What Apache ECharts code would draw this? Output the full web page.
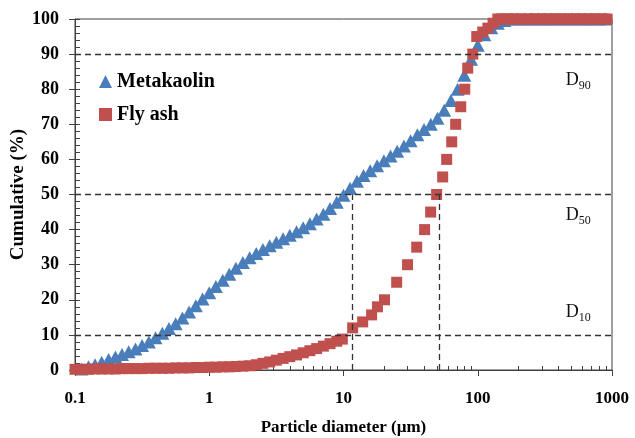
<!DOCTYPE html>
<html><head><meta charset="utf-8">
<script src="https://cdn.jsdelivr.net/npm/echarts@6/dist/echarts.min.js"></script>
<style>html,body{margin:0;padding:0;background:#fff}#c{width:635px;height:438px}</style>
</head><body><div id="c"></div>
<script>
// ---- data ----
const mkDiam = [0.112,0.126,0.141,0.158,0.178,0.2,0.224,0.251,0.282,0.316,0.355,0.398,0.447,0.501,0.562,0.631,0.708,0.794,0.891,1,1.12,1.26,1.41,1.58,1.78,2,2.24,2.51,2.82,3.16,3.55,3.98,4.47,5.01,5.62,6.31,7.08,7.94,8.91,10,11.2,12.6,14.1,15.8,17.8,20,22.4,25.1,28.2,31.6,35.5,39.8,44.7,50.1,56.2,63.1,70.8,79.4,89.1,100,112,126,141,158,178,200,224,251,282,316,355,398,447,501,562,631,708,794,891];
const mkCum  = [0.3,0.9,1.5,2.2,3.0,3.7,4.4,5.2,6.0,7.0,8.0,9.2,10.5,11.8,13.2,14.8,16.5,18.3,20.2,22,23.8,25.6,27.3,29,30.6,32,33.2,34.3,35.4,36.4,37.4,38.4,39.4,40.5,41.7,43,44.4,46,47.8,49.8,51.8,53.8,55.4,56.8,58.2,59.6,61,62.3,63.8,65.3,67,68.5,70,71.7,74,76.8,80,84,88.5,92.5,95.5,97.5,98.8,99.6,100,100,100,100,100,100,100,100,100,100,100,100,100,100,100];
const faDiam = [0.1,0.112,0.126,0.141,0.158,0.178,0.2,0.224,0.251,0.282,0.316,0.355,0.398,0.447,0.501,0.562,0.631,0.708,0.794,0.891,1,1.12,1.26,1.41,1.58,1.78,2,2.24,2.51,2.82,3.16,3.55,3.98,4.47,5.01,5.62,6.31,7.08,7.94,8.91,9.8,11.7,13.9,16.2,17.9,20.2,24.9,30,35.1,40.2,44.6,49.4,54.8,58.7,64,68.5,74.7,80,84.2,91.8,98.3,109,119,130,141,150,160,170,182,195,210,232,248,265,283,302,323,345,368,393,420,448,478,510,545,582,621,663,708,756,807,862,920];
const faCum  = [0.2,0.2,0.2,0.3,0.3,0.3,0.3,0.4,0.4,0.4,0.4,0.5,0.5,0.5,0.5,0.6,0.6,0.6,0.7,0.7,0.8,0.8,0.9,0.9,1.0,1.1,1.2,1.5,1.9,2.3,2.8,3.3,3.8,4.3,4.9,5.5,6.1,6.8,7.5,8.2,8.8,12,13.7,15.7,18,20,25,30,35,40,45,50,55,60,65,70,75,80,86,90,95,96.3,97.4,98.8,100,100,100,100,100,100,100,100,100,100,100,100,100,100,100,100,100,100,100,100,100,100,100,100,100,100,100,100,100];
const seriesNames = ['Metakaolin','Fly ash'];
const xMinorTicks = [0.2,0.3,0.4,0.5,0.6,0.7,0.8,0.9,2,3,4,5,6,7,8,9,20,30,40,50,60,70,80,90,200,300,400,500,600,700,800,900];
const yMajorStep = 10, yMinorStep = 2;
const hLines = [90,50,10];      // D90, D50, D10 levels
const vLines = [11.7,52];       // D10, D50 diameters of fly ash
const dNames = ['90','50','10'];

const chart = echarts.init(document.getElementById('c'), null, {renderer:'canvas'});
const serif = 'Liberation Serif, Times New Roman, serif';
const axCol = '#404040';
const pairs = (xs, ys) => xs.map((x,i)=>[x, ys[i]]);

chart.setOption({
  animation:false,
  backgroundColor:'#fff',
  grid:{left:75,right:23,top:19,bottom:68,show:true,borderColor:axCol,borderWidth:1,backgroundColor:'transparent',
        containLabel:false, outerBoundsMode:'none'},
  legend:{
    orient:'vertical', left:94, top:66, itemWidth:13, itemHeight:13, itemGap:12,
    data:seriesNames,
    textStyle:{fontFamily:serif,fontWeight:'bold',fontSize:20,color:'#000',lineHeight:21}
  },
  xAxis:[{
    type:'log', logBase:10, min:0.1, max:1000,
    name:'Particle diameter (\u00b5m)', nameLocation:'middle', nameGap:49,
    nameTextStyle:{fontFamily:serif,fontWeight:'bold',fontSize:17,color:'#000'},
    axisLine:{lineStyle:{color:axCol,width:1}},
    axisTick:{show:true,inside:false,length:6,lineStyle:{color:axCol}},
    axisLabel:{fontFamily:serif,fontWeight:'bold',fontSize:17,color:'#000',margin:20,
      formatter:v=>String(v)},
    splitLine:{show:false}, minorTick:{show:false}
  },{
    type:'log', logBase:10, min:0.1, max:1000, position:'bottom',
    axisLine:{show:false},
    axisTick:{show:true,inside:true,length:4,lineStyle:{color:axCol},customValues:xMinorTicks},
    axisLabel:{show:false}, splitLine:{show:false}
  }],
  yAxis:[{
    type:'value', min:0, max:100, interval:yMajorStep,
    name:'Cumulative (%)', nameLocation:'middle', nameGap:47, nameRotate:90, nameMoveOverlap:false,
    nameTextStyle:{fontFamily:serif,fontWeight:'bold',fontSize:19,color:'#000'},
    axisLine:{show:true,lineStyle:{color:axCol,width:1}},
    axisTick:{show:true,inside:false,length:6,lineStyle:{color:axCol}},
    axisLabel:{fontFamily:serif,fontWeight:'bold',fontSize:18,color:'#000',margin:16},
    splitLine:{show:false}
  },{
    type:'value', min:0, max:100, interval:yMinorStep, position:'left',
    axisLine:{show:false},
    axisTick:{show:true,inside:true,length:5,lineStyle:{color:axCol}},
    axisLabel:{show:false}, splitLine:{show:false}
  }],
  series:[{
    name:seriesNames[0], type:'scatter', xAxisIndex:0, yAxisIndex:0,
    symbol:'triangle', symbolSize:[14,13],
    itemStyle:{color:'#4A7EBB', opacity:1},
    data:pairs(mkDiam, mkCum),
    z:2,
    markLine:{
      silent:true, symbol:'none', animation:false,
      label:{show:false},
      lineStyle:{type:[6,4],color:'#333',width:1.3},
      data:[
        ...hLines.map(v=>({yAxis:v})),
        ...vLines.map(d=>[{coord:[d,0]},{coord:[d,hLines[1]]}])
      ]
    },
    markPoint:{
      silent:true, symbol:'rect', symbolSize:0,
      label:{show:true, position:'inside', color:'#000',
        formatter:p=>'{a|D}{b|'+p.name+'}',
        rich:{a:{fontFamily:serif,fontSize:18,color:'#111'},
              b:{fontFamily:serif,fontSize:12,color:'#111',padding:[11,0,0,0]}}},
      data:[
        {name:dNames[0], coord:[560,82.5]},
        {name:dNames[1], coord:[560,44]},
        {name:dNames[2], coord:[560,16.5]}
      ]
    }
  },{
    name:seriesNames[1], type:'scatter', xAxisIndex:0, yAxisIndex:0,
    symbol:'rect', symbolSize:11,
    itemStyle:{color:'#C0504D', opacity:1},
    data:pairs(faDiam, faCum),
    z:3
  }]
});
</script></body></html>
